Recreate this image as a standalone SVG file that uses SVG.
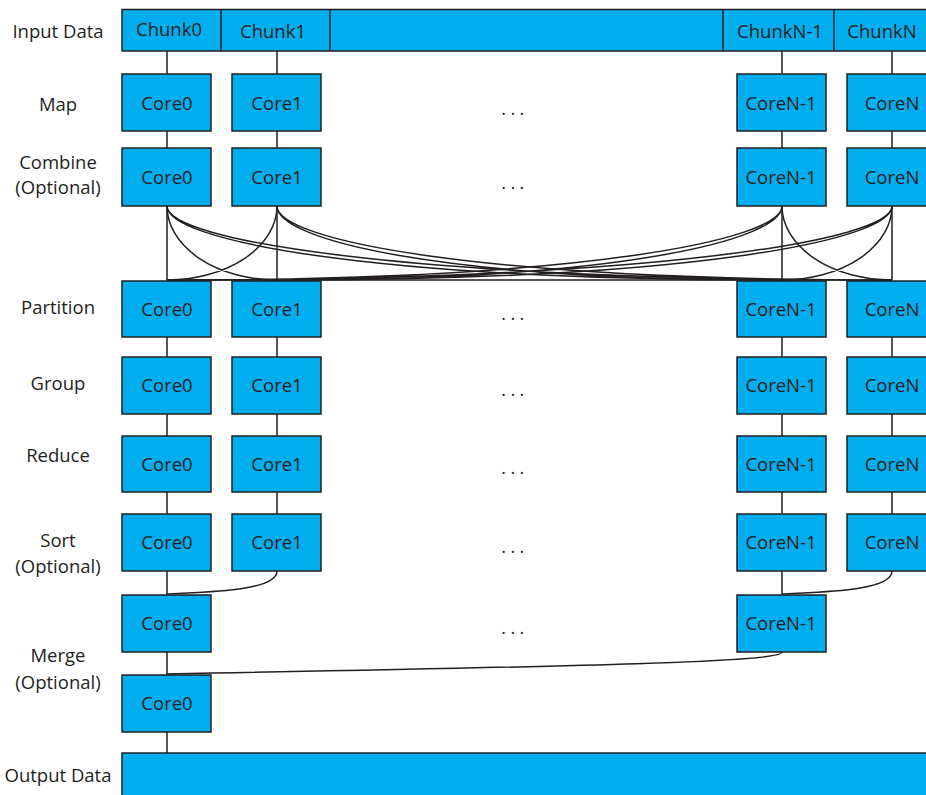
<svg xmlns="http://www.w3.org/2000/svg" width="926" height="795" viewBox="0 0 926 795">
<style>
.box{fill:#00aeef;stroke:#231f20;stroke-width:1.5}
.ln{fill:none;stroke:#231f20;stroke-width:1.5}
.t{font-family:"Open Sans","Noto Sans",sans-serif;font-size:18.5px;fill:#231f20;text-anchor:middle}
.dots{font-family:"Open Sans","Noto Sans",sans-serif;font-size:18px;fill:#231f20;text-anchor:middle;letter-spacing:4.4px}
</style>
<rect width="926" height="795" fill="#ffffff"/>
<g id="labels">
<text class="t" x="58" y="37.5">Input Data</text>
<text class="t" x="58" y="110.5">Map</text>
<text class="t" x="58" y="169">Combine</text>
<text class="t" x="58" y="194">(Optional)</text>
<text class="t" x="58" y="314">Partition</text>
<text class="t" x="58" y="390">Group</text>
<text class="t" x="58" y="462">Reduce</text>
<text class="t" x="58" y="547">Sort</text>
<text class="t" x="58" y="573">(Optional)</text>
<text class="t" x="58" y="662">Merge</text>
<text class="t" x="58" y="689">(Optional)</text>
<text class="t" x="58" y="782">Output Data</text>
</g>
<g id="connectors">
<path class="ln" d="M167,51V74M277,51V74M782,51V74M892,51V74"/>
<path class="ln" d="M167,131V148M277,131V148M782,131V148M892,131V148"/>
<path class="ln" d="M167,206V280M277,206V280M782,206V280M892,206V280M167,280H892"/>
<path class="ln" d="M167,206A110,74 0 0 0 277,280M277,206A110,74 0 0 1 167,280M782,206A110,74 0 0 0 892,280M892,206A110,74 0 0 1 782,280"/>
<path class="ln" d="M167,206C167,240 364,280 782,280M167,206C167,240 399,280 892,280M277,206C277,240 439,280 782,280M277,206C277,240 474,280 892,280"/>
<path class="ln" d="M782,206C782,240 585,280 167,280M782,206C782,240 620,280 277,280M892,206C892,240 660,280 167,280M892,206C892,240 695,280 277,280"/>
<path class="ln" d="M167,337V357M277,337V357M782,337V357M892,337V357"/>
<path class="ln" d="M167,414V436M277,414V436M782,414V436M892,414V436"/>
<path class="ln" d="M167,492V514M277,492V514M782,492V514M892,492V514"/>
<path class="ln" d="M167,571V595M782,571V595"/>
<path class="ln" d="M277,571C277,592 200,592 167,594M892,571C892,592 815,592 782,594"/>
<path class="ln" d="M167,652V675M782,652C782,662 600,666 167,674"/>
<path class="ln" d="M167,732V753"/>
</g>
<g id="input">
<rect class="box" x="122" y="9.5" width="830" height="41.5"/>
<path class="ln" d="M221,9.5V51M330,9.5V51M723,9.5V51M834,9.5V51"/>
<text class="t" x="169" y="36">Chunk0</text>
<text class="t" x="273" y="37.5">Chunk1</text>
<text class="t" x="780" y="37.5">ChunkN-1</text>
<text class="t" x="882" y="37.5">ChunkN</text>
</g>
<g id="map">
<rect class="box" x="122" y="74" width="89" height="57"/><text class="t" x="167" y="110">Core0</text>
<rect class="box" x="232" y="74" width="89" height="57"/><text class="t" x="277" y="110">Core1</text>
<rect class="box" x="737" y="74" width="89" height="57"/><text class="t" x="781" y="110">CoreN-1</text>
<rect class="box" x="847" y="74" width="89" height="57"/><text class="t" x="892" y="110">CoreN</text>
<text class="dots" x="515" y="115">...</text>
</g>
<g id="combine">
<rect class="box" x="122" y="148" width="89" height="58"/><text class="t" x="167" y="184">Core0</text>
<rect class="box" x="232" y="148" width="89" height="58"/><text class="t" x="277" y="184">Core1</text>
<rect class="box" x="737" y="148" width="89" height="58"/><text class="t" x="781" y="184">CoreN-1</text>
<rect class="box" x="847" y="148" width="89" height="58"/><text class="t" x="892" y="184">CoreN</text>
<text class="dots" x="515" y="189">...</text>
</g>
<g id="partition">
<rect class="box" x="122" y="281" width="89" height="56"/><text class="t" x="167" y="316">Core0</text>
<rect class="box" x="232" y="281" width="89" height="56"/><text class="t" x="277" y="316">Core1</text>
<rect class="box" x="737" y="281" width="89" height="56"/><text class="t" x="781" y="316">CoreN-1</text>
<rect class="box" x="847" y="281" width="89" height="56"/><text class="t" x="892" y="316">CoreN</text>
<text class="dots" x="515" y="320">...</text>
</g>
<g id="group">
<rect class="box" x="122" y="357" width="89" height="57"/><text class="t" x="167" y="392">Core0</text>
<rect class="box" x="232" y="357" width="89" height="57"/><text class="t" x="277" y="392">Core1</text>
<rect class="box" x="737" y="357" width="89" height="57"/><text class="t" x="781" y="392">CoreN-1</text>
<rect class="box" x="847" y="357" width="89" height="57"/><text class="t" x="892" y="392">CoreN</text>
<text class="dots" x="515" y="396">...</text>
</g>
<g id="reduce">
<rect class="box" x="122" y="436" width="89" height="56"/><text class="t" x="167" y="471">Core0</text>
<rect class="box" x="232" y="436" width="89" height="56"/><text class="t" x="277" y="471">Core1</text>
<rect class="box" x="737" y="436" width="89" height="56"/><text class="t" x="781" y="471">CoreN-1</text>
<rect class="box" x="847" y="436" width="89" height="56"/><text class="t" x="892" y="471">CoreN</text>
<text class="dots" x="515" y="474">...</text>
</g>
<g id="sort">
<rect class="box" x="122" y="514" width="89" height="57"/><text class="t" x="167" y="549">Core0</text>
<rect class="box" x="232" y="514" width="89" height="57"/><text class="t" x="277" y="549">Core1</text>
<rect class="box" x="737" y="514" width="89" height="57"/><text class="t" x="781" y="549">CoreN-1</text>
<rect class="box" x="847" y="514" width="89" height="57"/><text class="t" x="892" y="549">CoreN</text>
<text class="dots" x="515" y="553">...</text>
</g>
<g id="merge1">
<rect class="box" x="122" y="595" width="89" height="57"/><text class="t" x="167" y="630">Core0</text>
<rect class="box" x="737" y="595" width="89" height="57"/><text class="t" x="781" y="630">CoreN-1</text>
<text class="dots" x="515" y="634">...</text>
</g>
<g id="merge2">
<rect class="box" x="122" y="675" width="89" height="57"/><text class="t" x="167" y="710">Core0</text>
</g>
<g id="output">
<rect class="box" x="122" y="753" width="830" height="60"/>
</g>
</svg>
